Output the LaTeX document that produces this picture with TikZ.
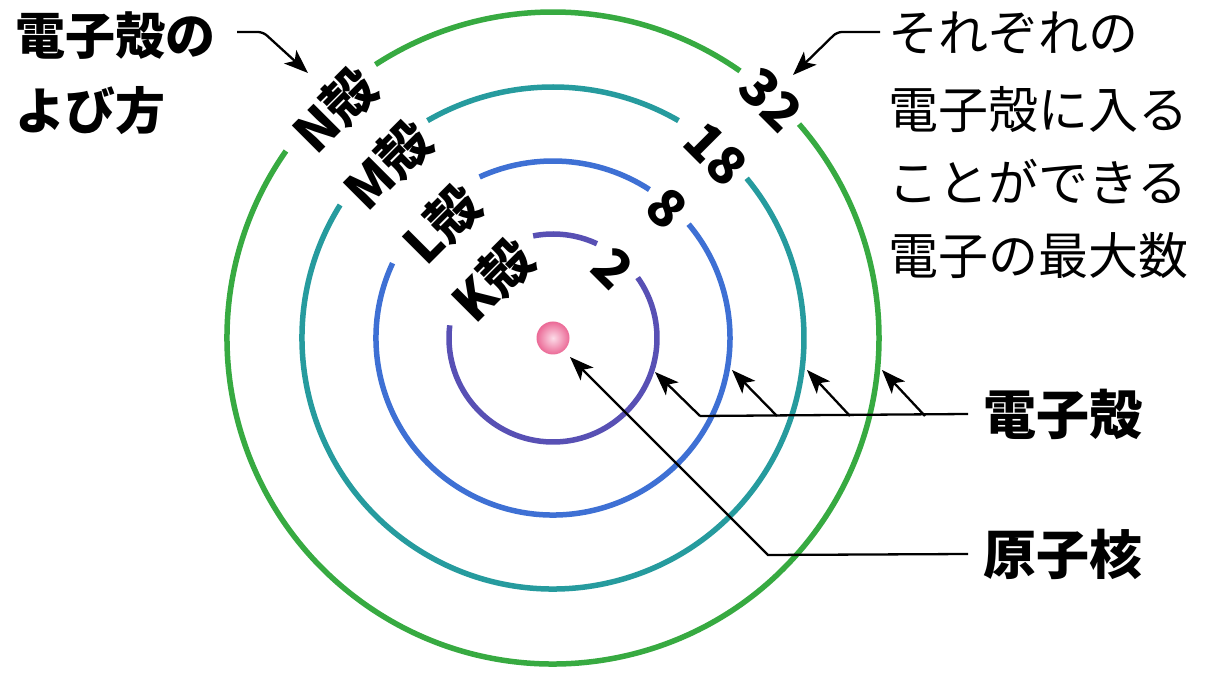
\documentclass[tikz,border=0pt]{standalone}
\usepackage{fontspec}
\setmainfont{Noto Sans CJK JP}
\usetikzlibrary{arrows.meta}
\definecolor{cK}{RGB}{88,80,180}
\definecolor{cL}{RGB}{62,112,212}
\definecolor{cM}{RGB}{38,155,158}
\definecolor{cN}{RGB}{55,170,65}
\definecolor{nucout}{RGB}{235,105,150}
\definecolor{nucin}{RGB}{252,220,232}
\begin{document}
\begin{tikzpicture}[x=1pt,y=1pt,
  shell/.style={line width=5.5pt},
  lbl/.style={font=\bfseries\fontsize{52}{52}\selectfont, inner sep=0pt},
  bigtxt/.style={font=\bfseries\fontsize{50}{60}\selectfont, inner sep=0pt, anchor=west},
  lighttxt/.style={font=\fontsize{50}{60}\selectfont, inner sep=0pt, anchor=west},
  con/.style={line width=2.3pt, -{Stealth[length=24pt,width=18pt,inset=6pt]}},
  plain/.style={line width=2.3pt}]
\useasboundingbox (0,0) rectangle (1225,672);
\fill[white] (0,0) rectangle (1225,672);
\coordinate (c) at (553,334);
% shells
\draw[shell,cK] ([shift={(c)}]65:104) arc[start angle=65,end angle=101,radius=104];
\draw[shell,cK] ([shift={(c)}]173:104) arc[start angle=173,end angle=395.5,radius=104];
\draw[shell,cL] ([shift={(c)}]57:177) arc[start angle=57,end angle=114.5,radius=177];
\draw[shell,cL] ([shift={(c)}]155:177) arc[start angle=155,end angle=400,radius=177];
\draw[shell,cM] ([shift={(c)}]60:251) arc[start angle=60,end angle=120,radius=251];
\draw[shell,cM] ([shift={(c)}]148:251) arc[start angle=148,end angle=399.5,radius=251];
\draw[shell,cN] ([shift={(c)}]55:326) arc[start angle=55,end angle=123,radius=326];
\draw[shell,cN] ([shift={(c)}]145:326) arc[start angle=145,end angle=401,radius=326];
% nucleus
\node[circle, minimum size=33pt, inner sep=0pt, inner color=nucin, outer color=nucout] (nuc) at (c) {};
% shell labels
\node[lbl, rotate=45] (lN) at (335,562) {N殻};
\node[lbl, rotate=45] (lM) at (388,507) {M殻};
\node[lbl, rotate=45] (lL) at (442,448) {L殻};
\node[lbl, rotate=45] (lK) at (493,392) {K殻};
\node[lbl, rotate=-45] (n32) at (771,572) {32};
\node[lbl, rotate=-45] (n18) at (716,518) {18};
\node[lbl, rotate=-45] (n8) at (667,464) {8};
\node[lbl, rotate=-45] (n2) at (613,404) {2};
% left text
\node[bigtxt] (t1) at (15,636) {電子殻の};
\node[bigtxt] (t2) at (15,561) {よび方};
% right text
\node[lighttxt] (r1) at (888,639) {それぞれの};
\node[lighttxt] (r2) at (888,562) {電子殻に入る};
\node[lighttxt] (r3) at (888,490) {ことができる};
\node[lighttxt] (r4) at (888,416) {電子の最大数};
% bottom labels
\node[bigtxt, font=\bfseries\fontsize{53}{60}\selectfont, inner xsep=15pt] (es) at (968,258) {電子殻};
\node[bigtxt, font=\bfseries\fontsize{53}{60}\selectfont, inner xsep=15pt] (gk) at (968,118) {原子核};
% callouts
\coordinate (a1) at (237,640);
\coordinate (tipN1) at (308,599);
\draw[con, rounded corners=5pt] (a1) -- (263,640) -- (tipN1);
\coordinate (a2) at (880,640);
\coordinate (tip32) at (793,597);
\draw[con, rounded corners=5pt] (a2) -- (837,640) -- (tip32);
% electron shell arrows
\coordinate (tK) at (655,300);
\coordinate (tL) at (732,302);
\coordinate (tM) at (807,302);
\coordinate (tN) at (882,302);
\coordinate (sK) at (700,256);
\coordinate (sL) at (777,256);
\coordinate (sM) at (850,256);
\coordinate (sN) at (925,256);
\draw[plain] (sK) -- (es.west);
\draw[con] (sK) -- (tK);
\draw[con] (sL) -- (tL);
\draw[con] (sM) -- (tM);
\draw[con] (sN) -- (tN);
% nucleus arrow
\coordinate (tn) at (570,315);
\coordinate (kn) at (768,117);
\draw[con] (gk.west) -- (kn) -- (tn);
\end{tikzpicture}
\end{document}
